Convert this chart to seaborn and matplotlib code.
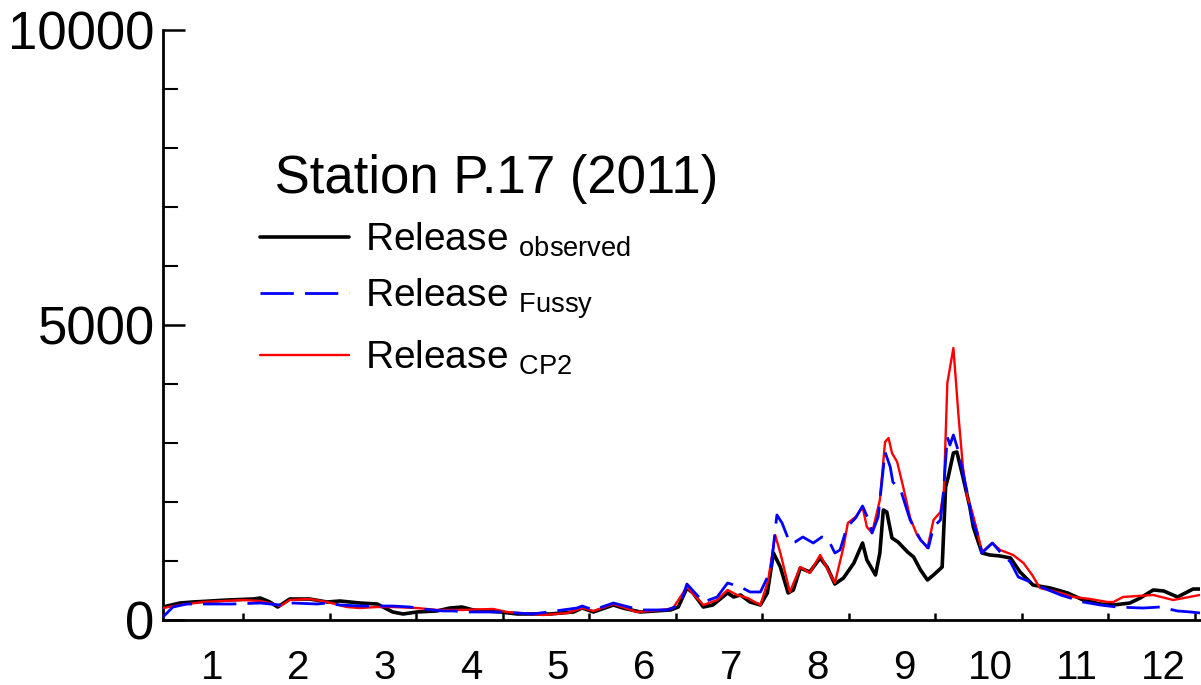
import matplotlib
matplotlib.use('Agg')
import matplotlib.pyplot as plt
import pandas as pd
import seaborn as sns

# time axis in months (tick k = end of month k), release in m3/s
obs_t = [0.075, 0.27, 0.42, 0.82, 1.12, 1.20, 1.31, 1.40, 1.54, 1.77, 1.97, 2.12, 2.35, 2.55, 2.73, 2.85,
         3.01, 3.24, 3.39, 3.53, 3.66, 3.97, 4.17, 4.55, 4.82, 4.92, 5.05, 5.28, 5.39, 5.59, 5.94, 6.03,
         6.13, 6.20, 6.32, 6.43, 6.60, 6.67, 6.75, 6.86, 6.98, 7.06, 7.13, 7.21, 7.30, 7.36, 7.44, 7.55,
         7.67, 7.75, 7.84, 7.94, 8.06, 8.16, 8.21, 8.31, 8.36, 8.40, 8.44, 8.50, 8.57, 8.68, 8.75, 8.83,
         8.91, 8.98, 9.08, 9.12, 9.15, 9.21, 9.25, 9.32, 9.40, 9.44, 9.54, 9.63, 9.75, 9.87, 9.98, 10.13,
         10.33, 10.53, 10.71, 10.91, 11.06, 11.25, 11.37, 11.52, 11.64, 11.80, 11.98, 12.06]
obs_q = [220, 288, 305, 339, 356, 373, 305, 220, 356, 356, 305, 322, 288, 271, 136, 102,
         136, 153, 203, 220, 170, 136, 102, 102, 136, 203, 136, 254, 203, 136, 170, 220,
         542, 458, 220, 254, 458, 390, 424, 305, 254, 458, 1136, 898, 458, 509, 881, 814,
         1051, 898, 610, 712, 966, 1305, 1017, 763, 1136, 1865, 1831, 1390, 1322, 1153, 1068, 848,
         678, 763, 898, 2254, 2424, 2831, 2848, 2424, 1915, 1576, 1136, 1102, 1085, 1051, 814, 593,
         542, 458, 339, 271, 254, 288, 373, 509, 492, 390, 525, 525]

fuz_t = [0.075, 0.19, 0.35, 0.62, 0.88, 1.20, 1.43, 1.58, 1.86, 1.97, 2.12, 2.35, 2.55, 2.73, 2.93, 3.08,
         3.31, 3.43, 3.59, 3.97, 4.35, 4.86, 4.92, 5.05, 5.28, 5.59, 5.90, 6.05, 6.13, 6.32, 6.48, 6.60,
         6.75, 6.86, 6.98, 7.10, 7.17, 7.23, 7.32, 7.38, 7.47, 7.59, 7.69, 7.76, 7.84, 7.90, 7.98, 8.08,
         8.16, 8.23, 8.27, 8.34, 8.42, 8.48, 8.51, 8.60, 8.71, 8.83, 8.92, 8.98, 9.06, 9.09, 9.14, 9.17,
         9.21, 9.27, 9.37, 9.43, 9.49, 9.54, 9.66, 9.75, 9.87, 9.96, 10.10, 10.25, 10.45, 10.71, 10.91,
         11.10, 11.40, 11.60, 11.80, 11.95, 12.06]
fuz_q = [51, 220, 271, 271, 271, 288, 254, 288, 271, 288, 254, 237, 237, 237, 220, 186,
         153, 153, 136, 136, 102, 203, 237, 170, 288, 170, 170, 254, 610, 305, 390, 627,
         559, 475, 475, 848, 1780, 1644, 1305, 1322, 1407, 1305, 1407, 1373, 1136, 1187, 1576, 1729,
         1932, 1695, 1475, 1746, 2848, 2594, 2339, 2204, 1695, 1356, 1220, 1576, 1695, 2085, 3102, 2966,
         3136, 2848, 2153, 1695, 1441, 1136, 1305, 1153, 983, 729, 644, 542, 424, 305, 254,
         220, 203, 220, 153, 136, 119]

cp2_t = [0.075, 0.27, 0.54, 1.00, 1.20, 1.35, 1.43, 1.54, 1.77, 1.97, 2.20, 2.35, 2.55, 2.73, 3.01, 3.24,
         3.43, 3.53, 3.89, 4.05, 4.47, 4.75, 4.92, 5.05, 5.28, 5.55, 5.86, 5.97, 6.13, 6.32, 6.48, 6.60,
         6.71, 6.83, 6.98, 7.07, 7.15, 7.21, 7.32, 7.44, 7.55, 7.67, 7.84, 7.94, 7.99, 8.08, 8.16, 8.21,
         8.27, 8.36, 8.42, 8.46, 8.50, 8.56, 8.63, 8.71, 8.79, 8.91, 8.98, 9.06, 9.10, 9.14, 9.21, 9.27,
         9.32, 9.37, 9.43, 9.49, 9.54, 9.66, 9.75, 9.90, 10.02, 10.12, 10.21, 10.45, 10.60, 10.79, 10.99,
         11.06, 11.17, 11.34, 11.52, 11.75, 12.06]
cp2_q = [203, 254, 305, 339, 322, 271, 237, 339, 356, 305, 220, 203, 220, 220, 203, 170,
         170, 170, 187, 136, 85, 119, 203, 153, 271, 136, 170, 203, 559, 254, 339, 509,
         424, 373, 254, 678, 1441, 1136, 475, 898, 797, 1102, 627, 1237, 1644, 1746, 1915, 1576,
         1475, 2034, 3017, 3085, 2831, 2678, 2254, 1729, 1441, 1220, 1695, 1831, 2204, 4017, 4610, 3441,
         2594, 2085, 1814, 1475, 1153, 1305, 1187, 1102, 966, 763, 542, 458, 390, 356, 305,
         305, 390, 407, 424, 339, 424]

months = list(range(1, 13))
month_labels = [str(m) for m in months]

sns.set_style('white')
plt.rcParams['font.family'] = ['Liberation Sans', 'DejaVu Sans']
plt.rcParams['text.color'] = 'black'
plt.rcParams['xtick.color'] = 'black'
plt.rcParams['ytick.color'] = 'black'

obs = pd.DataFrame({'month': obs_t, 'release': obs_q})
fuz = pd.DataFrame({'month': fuz_t, 'release': fuz_q})
cp2 = pd.DataFrame({'month': cp2_t, 'release': cp2_q})

fig = plt.figure(figsize=(12.01, 6.85), dpi=100)
ax = fig.add_axes([163 / 1201, 65 / 685, 1037 / 1201, 590 / 685])

sns.lineplot(data=obs, x='month', y='release', color='black', lw=2.6, zorder=2, ax=ax)
sns.lineplot(data=cp2, x='month', y='release', color='red', lw=1.7, zorder=3, ax=ax)
sns.lineplot(data=fuz, x='month', y='release', color='blue', lw=2.0, zorder=4, ax=ax)
l_obs, l_cp2, l_fuz = ax.lines[0], ax.lines[1], ax.lines[2]
l_fuz.set_dashes([12, 4])

ax.set_xlim(0.075, 12.06)
ax.set_ylim(0, 10000)
ax.set_xlabel('')
ax.set_ylabel('')

ax.set_yticks([0, 5000, 10000])
ax.set_yticks(range(0, 10001, 1000), minor=True)
ax.tick_params(axis='y', which='major', left=True, direction='in', length=16, width=1.8,
               labelsize=38, pad=6, labelcolor='black')
ax.tick_params(axis='y', which='minor', left=True, direction='in', length=11, width=1.5)

ax.set_xticks([m - 0.36 for m in months], month_labels)
ax.set_xticks(months, minor=True)
ax.tick_params(axis='x', which='major', bottom=True, length=0, labelsize=29, pad=21, labelcolor='black')
ax.tick_params(axis='x', which='minor', bottom=True, direction='in', length=5, width=1.8)

for side in ['top', 'right']:
    ax.spines[side].set_visible(False)
for side in ['left', 'bottom']:
    ax.spines[side].set_linewidth(2)
    ax.spines[side].set_color('black')

leg = ax.legend(handles=[l_obs, l_fuz, l_cp2],
                labels=[r'Release $_{\mathregular{observed}}$', r'Release $_{\mathregular{Fussy}}$',
                        r'Release $_{\mathregular{CP2}}$'],
                title=' Station P.17 (2011)', title_fontsize=38, fontsize=28, frameon=False,
                loc='upper left', bbox_to_anchor=(0.0935, 0.79), borderpad=0, borderaxespad=0,
                handlelength=2.3, handletextpad=0.4, labelspacing=0.44, alignment='left')

fig.savefig('out.png', dpi=100)
